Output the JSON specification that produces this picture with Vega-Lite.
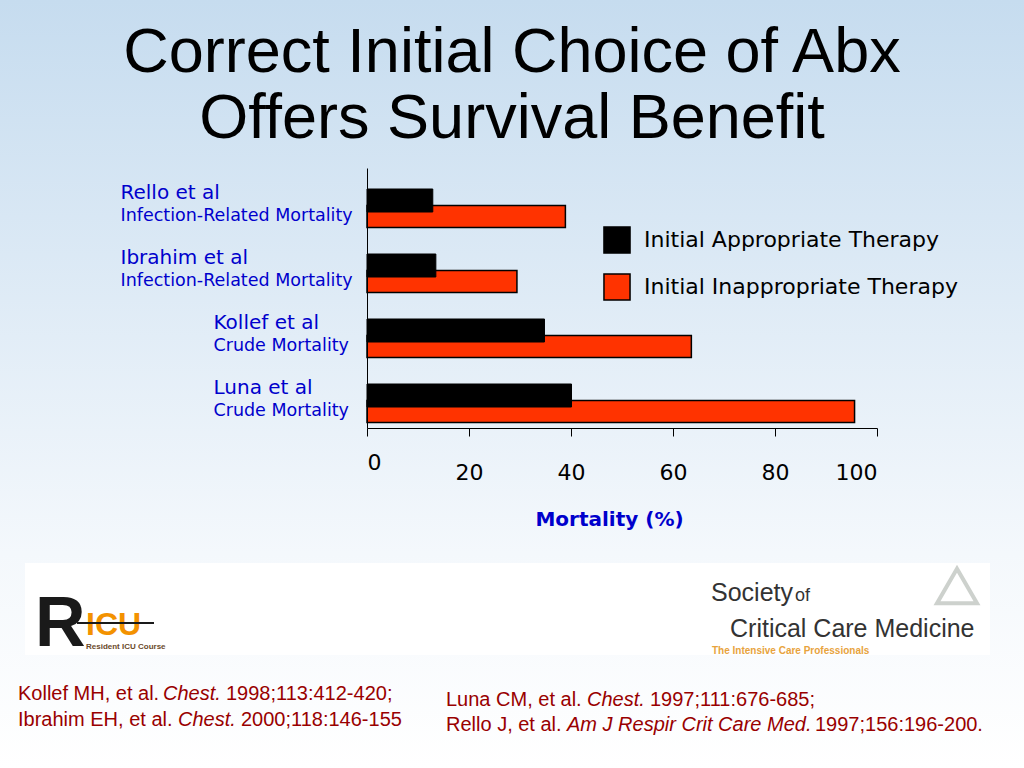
{
  "$schema": "https://vega.github.io/schema/vega-lite/v6.json",
  "width": 510,
  "height": 260,
  "autosize": {"type": "none"},
  "padding": {"left": 367, "top": 168, "right": 147, "bottom": 340},
  "background": "#ffffff",
  "config": {"view": {"stroke": null}, "font": "DejaVu Sans"},
  "data": {
    "values": [
      {"study": "Rello et al", "series": "Initial Appropriate Therapy", "value": 12.9},
      {"study": "Rello et al", "series": "Initial Inappropriate Therapy", "value": 38.9},
      {"study": "Ibrahim et al", "series": "Initial Appropriate Therapy", "value": 13.5},
      {"study": "Ibrahim et al", "series": "Initial Inappropriate Therapy", "value": 29.4},
      {"study": "Kollef et al", "series": "Initial Appropriate Therapy", "value": 34.8},
      {"study": "Kollef et al", "series": "Initial Inappropriate Therapy", "value": 63.6},
      {"study": "Luna et al", "series": "Initial Appropriate Therapy", "value": 40.1},
      {"study": "Luna et al", "series": "Initial Inappropriate Therapy", "value": 95.6}
    ]
  },
  "resolve": {"axis": {"y": "independent"}},
  "layer": [
    {
      "data": {"values": [{}]},
      "mark": {
        "type": "rect",
        "fill": {
          "gradient": "linear", "x1": 0, "y1": 0, "x2": 0, "y2": 1,
          "stops": [
            {"offset": 0, "color": "#C6DCEF"},
            {"offset": 0.72, "color": "#F4F8FC"},
            {"offset": 1, "color": "#FFFFFF"}
          ]
        }
      },
      "encoding": {"x": {"value": -367}, "x2": {"value": 657}, "y": {"value": -168}, "y2": {"value": 600}}
    },
    {
      "data": {"values": [{}]},
      "mark": {"type": "rect", "fill": "#FFFFFF"},
      "encoding": {"x": {"value": -342}, "x2": {"value": 623}, "y": {"value": 395}, "y2": {"value": 487}}
    },
    {
      "data": {"values": [{}]},
      "mark": {"type": "text", "text": ["Correct Initial Choice of Abx", "Offers Survival Benefit"], "font": "Liberation Sans", "fontSize": 63, "lineHeight": 66, "color": "#000000", "align": "center", "baseline": "alphabetic"},
      "encoding": {"x": {"value": 145}, "y": {"value": -96}}
    },
    {
      "transform": [{"filter": "datum.series == 'Initial Inappropriate Therapy'"}],
      "mark": {"type": "bar", "height": 22, "yOffset": 16, "stroke": "#000000", "strokeWidth": 1.5},
      "encoding": {
        "y": {
          "field": "study", "type": "nominal",
          "sort": ["Rello et al", "Ibrahim et al", "Kollef et al", "Luna et al"],
          "scale": {"paddingInner": 0, "paddingOuter": 0},
          "axis": {
            "orient": "left", "title": null, "domain": true, "domainColor": "#000000", "domainWidth": 1,
            "ticks": false, "tickSize": 0, "labelAlign": "left", "labelBaseline": "middle",
            "labelFont": "DejaVu Sans", "labelFontSize": 20, "labelColor": "#0000CC", "labelLimit": 400,
            "labelPadding": {"condition": {"test": "datum.value == 'Rello et al' || datum.value == 'Ibrahim et al'", "value": 247}, "value": 154},
            "labelOffset": -8, "zindex": 2
          }
        },
        "x": {
          "field": "value", "type": "quantitative",
          "scale": {"domain": [0, 100]},
          "axis": {
            "values": [0, 20, 40, 60, 80, 100], "grid": false, "domainColor": "#000000", "tickColor": "#000000",
            "tickSize": 8, "labelFont": "DejaVu Sans", "labelFontSize": 22, "labelColor": "#000000",
            "labelPadding": {"condition": {"test": "datum.value == 0", "value": 16}, "value": 26},
            "title": "Mortality (%)", "titleFont": "DejaVu Sans", "titleFontSize": 20, "titleFontWeight": "bold",
            "titleColor": "#0000CC", "titleX": 242, "titleY": 91, "titleBaseline": "middle", "titleAlign": "center",
            "zindex": 2
          }
        },
        "color": {
          "field": "series", "type": "nominal",
          "scale": {"domain": ["Initial Appropriate Therapy", "Initial Inappropriate Therapy"], "range": ["#000000", "#FF3300"]},
          "legend": {
            "orient": "none", "legendX": 236, "legendY": 58, "title": null, "symbolType": "square", "symbolSize": 680,
            "symbolStrokeColor": "#000000", "symbolStrokeWidth": 1.5, "labelFont": "DejaVu Sans", "labelFontSize": 22,
            "labelColor": "#000000", "labelOffset": 13, "rowPadding": 13, "labelLimit": 400, "zindex": 2
          }
        }
      }
    },
    {
      "transform": [{"filter": "datum.series == 'Initial Appropriate Therapy'"}],
      "mark": {"type": "bar", "height": 23, "yOffset": 0, "stroke": "#000000", "strokeWidth": 1},
      "encoding": {
        "y": {
          "field": "study", "type": "nominal",
          "sort": ["Rello et al", "Ibrahim et al", "Kollef et al", "Luna et al"],
          "axis": {
            "orient": "left", "title": null, "domain": false, "ticks": false, "tickSize": 0,
            "labelAlign": "left", "labelBaseline": "middle", "labelFont": "DejaVu Sans", "labelFontSize": 17.5,
            "labelColor": "#0000CC", "labelLimit": 400,
            "labelExpr": "datum.value == 'Rello et al' || datum.value == 'Ibrahim et al' ? 'Infection-Related Mortality' : 'Crude Mortality'",
            "labelPadding": {"condition": {"test": "datum.value == 'Rello et al' || datum.value == 'Ibrahim et al'", "value": 247}, "value": 154},
            "labelOffset": 15, "zindex": 2
          }
        },
        "x": {"field": "value", "type": "quantitative", "scale": {"domain": [0, 100]}},
        "color": {"field": "series", "type": "nominal"}
      }
    },
    {
      "data": {"values": [{}]},
      "mark": {"type": "text", "text": "R", "font": "Liberation Sans", "fontWeight": "bold", "fontSize": 70, "color": "#1a1a1a", "align": "left", "baseline": "alphabetic"},
      "encoding": {"x": {"value": -332}, "y": {"value": 478}}
    },
    {
      "data": {"values": [{}]},
      "mark": {"type": "text", "text": "ICU", "font": "Liberation Sans", "fontWeight": "bold", "fontSize": 32, "color": "#F39200", "align": "left", "baseline": "alphabetic"},
      "encoding": {"x": {"value": -281}, "y": {"value": 467}}
    },
    {
      "data": {"values": [{}]},
      "mark": {"type": "rule", "color": "#1a1a1a", "strokeWidth": 2},
      "encoding": {"x": {"value": -290}, "x2": {"value": -213}, "y": {"value": 455}}
    },
    {
      "data": {"values": [{}]},
      "mark": {"type": "text", "text": "Resident ICU Course", "font": "Liberation Sans", "fontWeight": "bold", "fontSize": 8, "color": "#6b4a2a", "align": "left", "baseline": "alphabetic"},
      "encoding": {"x": {"value": -281}, "y": {"value": 481}}
    },
    {
      "data": {"values": [{}]},
      "mark": {"type": "text", "text": "Society", "font": "Liberation Sans", "fontSize": 25, "color": "#333333", "align": "left", "baseline": "alphabetic"},
      "encoding": {"x": {"value": 344}, "y": {"value": 433}}
    },
    {
      "data": {"values": [{}]},
      "mark": {"type": "text", "text": "of", "font": "Liberation Sans", "fontSize": 18, "color": "#333333", "align": "left", "baseline": "alphabetic"},
      "encoding": {"x": {"value": 428}, "y": {"value": 433}}
    },
    {
      "data": {"values": [{}]},
      "mark": {"type": "text", "text": "Critical Care Medicine", "font": "Liberation Sans", "fontSize": 25, "color": "#333333", "align": "left", "baseline": "alphabetic"},
      "encoding": {"x": {"value": 363}, "y": {"value": 469}}
    },
    {
      "data": {"values": [{}]},
      "mark": {"type": "text", "text": "The Intensive Care Professionals", "font": "Liberation Sans", "fontWeight": "bold", "fontSize": 10, "color": "#E8A33D", "align": "left", "baseline": "alphabetic"},
      "encoding": {"x": {"value": 345}, "y": {"value": 486}}
    },
    {
      "data": {"values": [{}]},
      "mark": {"type": "point", "shape": "triangle-up", "size": 1600, "filled": false, "stroke": "#B8BEB8", "strokeWidth": 4},
      "encoding": {"x": {"value": 590}, "y": {"value": 418}}
    },
    {
      "data": {"values": [{}]},
      "mark": {"type": "text", "text": "Kollef MH, et al.", "font": "Liberation Sans", "fontSize": 20, "color": "#990000", "align": "left", "baseline": "middle"},
      "encoding": {"x": {"value": -349}, "y": {"value": 526}}
    },
    {
      "data": {"values": [{}]},
      "mark": {"type": "text", "text": "Chest.", "font": "Liberation Sans", "fontStyle": "italic", "fontSize": 20, "color": "#990000", "align": "left", "baseline": "middle"},
      "encoding": {"x": {"value": -204}, "y": {"value": 526}}
    },
    {
      "data": {"values": [{}]},
      "mark": {"type": "text", "text": "1998;113:412-420;", "font": "Liberation Sans", "fontSize": 20, "color": "#990000", "align": "left", "baseline": "middle"},
      "encoding": {"x": {"value": -141}, "y": {"value": 526}}
    },
    {
      "data": {"values": [{}]},
      "mark": {"type": "text", "text": "Ibrahim EH, et al.", "font": "Liberation Sans", "fontSize": 20, "color": "#990000", "align": "left", "baseline": "middle"},
      "encoding": {"x": {"value": -349}, "y": {"value": 552}}
    },
    {
      "data": {"values": [{}]},
      "mark": {"type": "text", "text": "Chest.", "font": "Liberation Sans", "fontStyle": "italic", "fontSize": 20, "color": "#990000", "align": "left", "baseline": "middle"},
      "encoding": {"x": {"value": -189}, "y": {"value": 552}}
    },
    {
      "data": {"values": [{}]},
      "mark": {"type": "text", "text": "2000;118:146-155", "font": "Liberation Sans", "fontSize": 20, "color": "#990000", "align": "left", "baseline": "middle"},
      "encoding": {"x": {"value": -126}, "y": {"value": 552}}
    },
    {
      "data": {"values": [{}]},
      "mark": {"type": "text", "text": "Luna CM, et al.", "font": "Liberation Sans", "fontSize": 20, "color": "#990000", "align": "left", "baseline": "middle"},
      "encoding": {"x": {"value": 79}, "y": {"value": 532}}
    },
    {
      "data": {"values": [{}]},
      "mark": {"type": "text", "text": "Chest.", "font": "Liberation Sans", "fontStyle": "italic", "fontSize": 20, "color": "#990000", "align": "left", "baseline": "middle"},
      "encoding": {"x": {"value": 220}, "y": {"value": 532}}
    },
    {
      "data": {"values": [{}]},
      "mark": {"type": "text", "text": "1997;111:676-685;", "font": "Liberation Sans", "fontSize": 20, "color": "#990000", "align": "left", "baseline": "middle"},
      "encoding": {"x": {"value": 283}, "y": {"value": 532}}
    },
    {
      "data": {"values": [{}]},
      "mark": {"type": "text", "text": "Rello J, et al.", "font": "Liberation Sans", "fontSize": 20, "color": "#990000", "align": "left", "baseline": "middle"},
      "encoding": {"x": {"value": 79}, "y": {"value": 557}}
    },
    {
      "data": {"values": [{}]},
      "mark": {"type": "text", "text": "Am J Respir Crit Care Med.", "font": "Liberation Sans", "fontStyle": "italic", "fontSize": 20, "color": "#990000", "align": "left", "baseline": "middle"},
      "encoding": {"x": {"value": 200}, "y": {"value": 557}}
    },
    {
      "data": {"values": [{}]},
      "mark": {"type": "text", "text": "1997;156:196-200.", "font": "Liberation Sans", "fontSize": 20, "color": "#990000", "align": "left", "baseline": "middle"},
      "encoding": {"x": {"value": 448}, "y": {"value": 557}}
    }
  ]
}
